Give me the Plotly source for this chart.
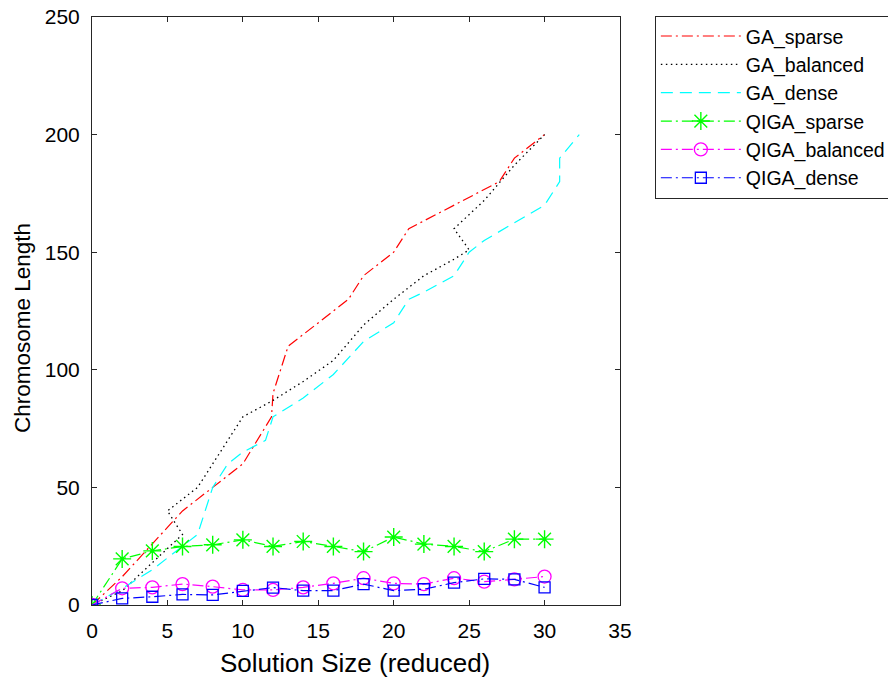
import plotly.graph_objects as go

# GA series (x, y)
ga_sparse_x = [0, 2, 4, 6, 8, 10, 11.9, 12, 13, 14, 17, 18, 20, 21, 24, 27, 28, 30]
ga_sparse_y = [0, 12, 26, 40, 50, 60, 80, 90, 110, 115, 130, 140, 150, 160, 170, 180, 190, 200]

ga_balanced_x = [0, 2, 4, 6, 5, 7, 10, 12, 14, 16, 18, 20, 22, 24, 25, 24, 26, 28, 30]
ga_balanced_y = [0, 6, 18, 30, 40, 50, 80, 87, 95, 104, 119, 130, 140, 147, 151, 160, 172, 187, 200]

ga_dense_x = [0, 2, 4, 7, 8, 9, 10, 11.5, 12, 14, 16, 18, 20, 21, 22, 24, 25, 26, 30, 31, 31, 32.3]
ga_dense_y = [0, 7, 15, 30, 50, 60, 65, 70, 80, 88, 98, 112, 120, 130, 133, 140, 150, 155, 170, 180, 190, 200]

# QIGA series at even solution sizes
qiga_x = [0, 2, 4, 6, 8, 10, 12, 14, 16, 18, 20, 22, 24, 26, 28, 30]
qiga_sparse_y = [0, 19.6, 23.0, 24.9, 25.6, 27.7, 24.9, 27.0, 24.9, 22.7, 28.9, 25.9, 24.9, 22.7, 28.0, 28.0]
qiga_balanced_y = [0, 7.1, 7.5, 8.9, 7.8, 6.4, 6.4, 7.5, 9.2, 11.4, 9.2, 8.9, 11.4, 9.9, 10.9, 12.1]
qiga_dense_y = [0, 2.8, 3.5, 4.5, 4.3, 6.0, 7.4, 6.1, 6.1, 8.9, 6.1, 6.7, 9.5, 11.1, 10.9, 7.5]

x_ticks = [0, 5, 10, 15, 20, 25, 30, 35]
y_ticks = [0, 50, 100, 150, 200, 250]

x_title = "Solution Size (reduced)"
y_title = "Chromosome Length"

DASHDOT = "11px,4px,2px,4px"
DOT = "1.5px,3.5px"
DASH = "12px,7px"

fig = go.Figure()
fig.add_trace(go.Scatter(x=ga_sparse_x, y=ga_sparse_y, mode="lines", name="GA_sparse",
                         legendgroup="a",
                         line=dict(color="#FF0000", width=1.2, dash=DASHDOT)))
fig.add_trace(go.Scatter(x=ga_balanced_x, y=ga_balanced_y, mode="lines", name="GA_balanced",
                         legendgroup="b",
                         line=dict(color="#000000", width=1.3, dash=DOT)))
fig.add_trace(go.Scatter(x=ga_dense_x, y=ga_dense_y, mode="lines", name="GA_dense",
                         legendgroup="c",
                         line=dict(color="#00FFFF", width=1.2, dash=DASH)))
fig.add_trace(go.Scatter(x=qiga_x, y=qiga_sparse_y, mode="lines+markers", name="QIGA_sparse",
                         legendgroup="d",
                         line=dict(color="#00FF00", width=1.2, dash=DASHDOT),
                         marker=dict(symbol="asterisk-open", size=15,
                                     line=dict(color="#00FF00", width=1.4))))
fig.add_trace(go.Scatter(x=qiga_x, y=qiga_balanced_y, mode="lines+markers", name="QIGA_balanced",
                         legendgroup="e",
                         line=dict(color="#FF00FF", width=1.2, dash=DASHDOT),
                         marker=dict(symbol="circle-open", size=13,
                                     line=dict(color="#FF00FF", width=1.3))))
fig.add_trace(go.Scatter(x=qiga_x, y=qiga_dense_y, mode="lines+markers", name="QIGA_dense",
                         legendgroup="f",
                         line=dict(color="#0000FF", width=1.2, dash=DASHDOT),
                         marker=dict(symbol="square-open", size=11,
                                     line=dict(color="#0000FF", width=1.3))))

axis_common = dict(showline=True, linecolor="#262626", linewidth=1, mirror="ticks",
                   ticks="inside", ticklen=5, tickcolor="#262626", showgrid=False,
                   zeroline=False, automargin=False, ticklabeloverflow="allow",
                   ticklabelstandoff=7, tickfont=dict(size=21, color="#000000"))

fig.update_layout(
    width=888, height=682,
    margin=dict(l=92, r=268, t=17, b=77, autoexpand=False),
    paper_bgcolor="white", plot_bgcolor="white",
    font=dict(family="Liberation Sans, Arial, sans-serif", color="#000000"),
    xaxis=dict(range=[0, 35], tickvals=x_ticks, **axis_common),
    yaxis=dict(range=[0, 250], tickvals=y_ticks, **axis_common),
    legend=dict(x=1.066, y=1.002, xanchor="left", yanchor="top",
                bordercolor="#262626", borderwidth=1, bgcolor="white",
                font=dict(size=19.5), tracegroupgap=0, itemwidth=80),
    annotations=[
        dict(text=x_title, xref="paper", yref="paper", x=0.498, y=-0.0986,
             xanchor="center", yanchor="middle", showarrow=False,
             font=dict(size=26, color="#000000")),
        dict(text=y_title, xref="paper", yref="paper", x=-0.1326, y=0.471,
             xanchor="center", yanchor="middle", showarrow=False, textangle=-90,
             font=dict(size=22.5, color="#000000")),
    ],
)

fig.write_html("out.html", config={"displayModeBar": False},
               post_script="document.body.style.margin='0px';")
